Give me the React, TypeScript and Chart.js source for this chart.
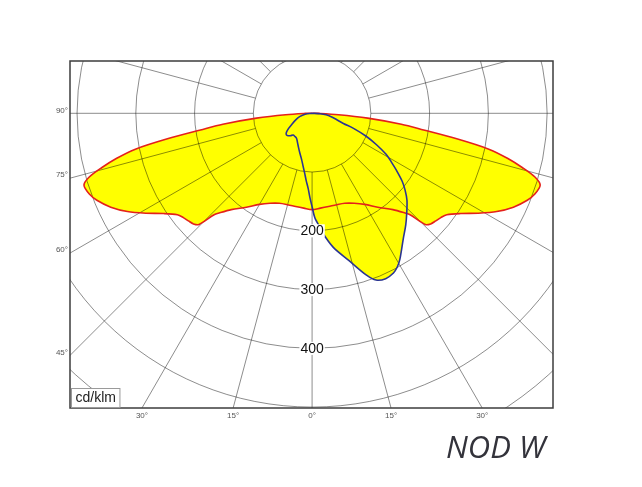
import React, { useEffect, useRef } from 'react';
import { Chart, registerables } from 'chart.js';

Chart.register(...registerables);

// Photometric data, cd/klm, gamma angle measured from nadir (degrees)
const redAngles = [0, 5, 10, 15, 20, 25, 30, 35, 40, 43, 44, 45.5, 47, 49, 51, 53, 56, 59, 62, 65, 68, 70, 72.5, 74, 75.5, 77, 78.5, 80, 81.5, 83, 85, 87, 89, 90];
const redC0C180 = [164, 162, 161, 161, 163, 169, 179, 195, 214, 232, 240, 270, 276, 279, 282, 287, 305, 330, 356, 378, 395, 403, 407, 395, 370, 342, 308, 250, 192, 153, 95, 45, 12, 0];

const blueAnglesC270 = [0, 1.5, 3, 5, 7, 10, 13, 17, 22, 27, 32, 37, 41, 44, 47, 50, 53, 57, 61, 68, 75, 83, 90];
const blueC270 = [159, 143, 128, 115, 103, 90, 80, 71, 62, 55, 50, 49, 49, 53, 56, 57, 55, 48, 40, 30, 22, 12, 0];

const blueAnglesC90 = [0, 1.5, 3, 5, 9, 14, 18.5, 21, 24, 27, 29, 31, 36, 40, 43.5, 47.5, 50.5, 53, 56, 58.5, 61, 64, 67, 70, 72, 76, 80, 84, 87, 90];
const blueC90 = [159, 178, 188, 204, 231, 258, 290, 304, 308, 305, 299, 290, 264, 248, 234, 219, 205, 192, 173, 158, 144, 122, 100, 75, 56, 42, 33, 24, 14, 0];

// Grid / tick values
const ringValues = [100, 200, 300, 400, 500, 600, 700, 800];
const ringLabelValues = [200, 300, 400];
const spokeAngles = Array.from({ length: 24 }, (_, i) => i * 15);
const leftAngleLabels = [90, 75, 60, 45];
const bottomAngleLabels = [-30, -15, 0, 15, 30];
const unitLabel = 'cd/klm';
const titleText = 'NOD W';

const rad = (d: number) => (d * Math.PI) / 180;

function buildShape(leftAngles: number[], leftVals: number[], rightAngles: number[], rightVals: number[]) {
  const pts: { x: number; y: number }[] = [];
  for (let i = leftAngles.length - 1; i >= 0; i--) {
    const a = rad(leftAngles[i]);
    pts.push({ x: -leftVals[i] * Math.sin(a), y: -leftVals[i] * Math.cos(a) });
  }
  for (let i = 1; i < rightAngles.length; i++) {
    const a = rad(rightAngles[i]);
    pts.push({ x: rightVals[i] * Math.sin(a), y: -rightVals[i] * Math.cos(a) });
  }
  return pts;
}

const polarPlugin = {
  id: 'polarGrid',
  afterDatasetDraw(chart: any, args: any) {
    if (args.index !== 2) return;
    const { ctx, chartArea, scales } = chart;
    const xs = scales.x;
    const ys = scales.y;
    const cx = xs.getPixelForValue(0);
    const cy = ys.getPixelForValue(0);
    const k = xs.getPixelForValue(100) - cx;
    ctx.save();
    ctx.beginPath();
    ctx.rect(chartArea.left, chartArea.top, chartArea.right - chartArea.left, chartArea.bottom - chartArea.top);
    ctx.clip();
    ctx.strokeStyle = 'rgba(0,0,0,0.45)';
    ctx.lineWidth = 1;
    for (const v of ringValues) {
      ctx.beginPath();
      ctx.arc(cx, cy, (v / 100) * k, 0, Math.PI * 2);
      ctx.stroke();
    }
    const r0 = ringValues[0];
    const r1 = ringValues[ringValues.length - 1];
    for (const a of spokeAngles) {
      const s = Math.sin(rad(a));
      const c = Math.cos(rad(a));
      ctx.beginPath();
      ctx.moveTo(xs.getPixelForValue(r0 * s), ys.getPixelForValue(-r0 * c));
      ctx.lineTo(xs.getPixelForValue(r1 * s), ys.getPixelForValue(-r1 * c));
      ctx.stroke();
    }
    ctx.restore();
  },
  afterDraw(chart: any) {
    const { ctx, chartArea, scales } = chart;
    const xs = scales.x;
    const ys = scales.y;
    const cx = xs.getPixelForValue(0);
    ctx.save();
    // ring labels
    ctx.font = '14px "Liberation Sans", Arial, sans-serif';
    ctx.textAlign = 'center';
    ctx.textBaseline = 'middle';
    for (const v of ringLabelValues) {
      const py = ys.getPixelForValue(-v);
      const t = String(v);
      const w = ctx.measureText(t).width;
      ctx.fillStyle = '#ffffff';
      ctx.fillRect(cx - w / 2 - 1, py - 6.5, w + 2, 13);
      ctx.fillStyle = '#111111';
      ctx.fillText(t, cx, py + 0.5);
    }
    // frame
    ctx.strokeStyle = '#3c3c3c';
    ctx.lineWidth = 1.5;
    ctx.strokeRect(chartArea.left, chartArea.top, chartArea.right - chartArea.left, chartArea.bottom - chartArea.top);
    // angle labels
    ctx.font = '8px "Liberation Sans", Arial, sans-serif';
    ctx.fillStyle = '#555555';
    ctx.textAlign = 'right';
    ctx.textBaseline = 'middle';
    const xMin = xs.min;
    for (const a of leftAngleLabels) {
      const s = Math.sin(rad(a));
      const c = Math.cos(rad(a));
      const t = xMin / -s;
      const yv = -t * c;
      ctx.fillText(`${a}°`, chartArea.left - 2, ys.getPixelForValue(yv) - 3);
    }
    ctx.textAlign = 'center';
    const yMin = ys.min;
    for (const a of bottomAngleLabels) {
      const c = Math.cos(rad(Math.abs(a)));
      const s = Math.sin(rad(a));
      const t = yMin / -c;
      const xv = t * s;
      ctx.fillText(`${Math.abs(a)}°`, xs.getPixelForValue(xv), chartArea.bottom + 8);
    }
    // unit box
    ctx.font = '14px "Liberation Sans", Arial, sans-serif';
    const uw = ctx.measureText(unitLabel).width;
    const bx = chartArea.left + 1.5;
    const by = chartArea.bottom - 19.5;
    ctx.fillStyle = '#ffffff';
    ctx.fillRect(bx, by, uw + 8, 19);
    ctx.strokeStyle = '#9a9a9a';
    ctx.lineWidth = 1;
    ctx.strokeRect(bx, by, uw + 8, 19);
    ctx.fillStyle = '#222222';
    ctx.textAlign = 'left';
    ctx.textBaseline = 'middle';
    ctx.fillText(unitLabel, bx + 4, by + 10);
    // title
    ctx.font = 'italic 31px "Open Sans", "Noto Sans", sans-serif';
    ctx.fillStyle = '#33333b';
    ctx.textAlign = 'left';
    ctx.textBaseline = 'alphabetic';
    ctx.fillText(titleText, 446, 458);
    ctx.restore();
  },
};

export default function App() {
  const ref = useRef<HTMLCanvasElement>(null);
  useEffect(() => {
    const canvas = ref.current;
    if (!canvas) return;
    const redPts = buildShape(redAngles, redC0C180, redAngles, redC0C180);
    const bluePts = buildShape(blueAnglesC270, blueC270, blueAnglesC90, blueC90);
    const common = { showLine: true, pointRadius: 0, pointHoverRadius: 0, tension: 0.3 };
    const chart = new Chart(canvas, {
      type: 'scatter',
      data: {
        datasets: [
          { ...common, label: 'C90-C270', data: bluePts, borderColor: '#2b3592', borderWidth: 1.6, fill: false },
          { ...common, label: 'C0-C180', data: redPts, borderColor: '#e4211b', borderWidth: 1.6, fill: false },
          { ...common, label: 'C90-C270 area', data: bluePts, borderColor: 'rgba(0,0,0,0)', borderWidth: 0, backgroundColor: '#ffff00', fill: 'shape' },
          { ...common, label: 'C0-C180 area', data: redPts, borderColor: 'rgba(0,0,0,0)', borderWidth: 0, backgroundColor: '#ffff00', fill: 'shape' },
        ] as any,
      },
      options: {
        animation: false,
        responsive: false,
        devicePixelRatio: 1,
        events: [],
        layout: { padding: { left: 70, top: 61, right: 89, bottom: 79 } },
        scales: {
          x: { type: 'linear', min: -412, max: 410, display: false },
          y: { type: 'linear', min: -501.5, max: 89, display: false },
        },
        plugins: { legend: { display: false }, tooltip: { enabled: false } },
      } as any,
      plugins: [polarPlugin],
    });
    return () => chart.destroy();
  }, []);
  return (
    <div style={{ position: 'fixed', left: 0, top: 0, width: 642, height: 487, background: '#ffffff' }}>
      <canvas ref={ref} width={642} height={487} style={{ display: 'block', width: 642, height: 487 }} />
    </div>
  );
}
